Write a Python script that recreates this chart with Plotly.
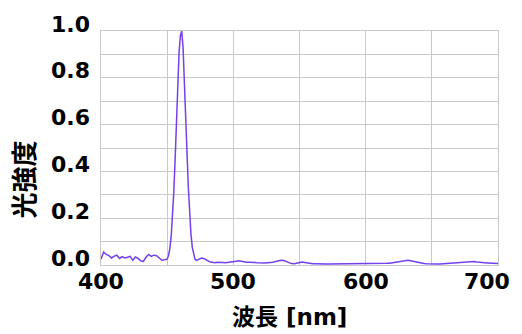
import plotly.graph_objects as go

# Emission spectrum: wavelength [nm] vs. normalized intensity
# Sampled every 2 nm, with 1 nm sampling across the emission peak.
wl_blue_side = list(range(400, 450, 2))
int_blue_side = [
    0.025, 0.055, 0.045, 0.040, 0.030, 0.038, 0.042, 0.028, 0.036, 0.030,
    0.033, 0.037, 0.020, 0.034, 0.028, 0.018, 0.015, 0.033, 0.045, 0.037,
    0.042, 0.040, 0.030, 0.020, 0.022,
]

wl_peak = list(range(450, 472))
int_peak = [
    0.025, 0.040, 0.070, 0.120, 0.200, 0.310, 0.450, 0.610, 0.770, 0.910,
    0.980, 1.000, 0.930, 0.800, 0.640, 0.480, 0.330, 0.210, 0.130, 0.075,
    0.045, 0.025,
]

wl_red_side = list(range(472, 701, 2))
int_red_side = [
    0.020, 0.025, 0.030, 0.027, 0.020, 0.014, 0.012, 0.010, 0.012, 0.013,
    0.011, 0.010, 0.011, 0.012, 0.012, 0.016, 0.018, 0.015, 0.014, 0.012,
    0.012, 0.010, 0.011, 0.010, 0.009, 0.008, 0.009, 0.010, 0.010, 0.012,
    0.015, 0.019, 0.020, 0.019, 0.014, 0.009, 0.006, 0.005, 0.008, 0.010,
    0.013, 0.011, 0.008, 0.006, 0.005, 0.005, 0.004, 0.004, 0.004, 0.004,
    0.004, 0.004, 0.004, 0.004, 0.005, 0.004, 0.004, 0.004, 0.005, 0.005,
    0.005, 0.004, 0.005, 0.005, 0.005, 0.005, 0.005, 0.005, 0.006, 0.006,
    0.006, 0.006, 0.007, 0.008, 0.010, 0.012, 0.014, 0.016, 0.018, 0.020,
    0.020, 0.018, 0.015, 0.013, 0.010, 0.008, 0.006, 0.005, 0.004, 0.004,
    0.004, 0.004, 0.004, 0.005, 0.005, 0.005, 0.006, 0.006, 0.007, 0.008,
    0.009, 0.010, 0.012, 0.014, 0.016, 0.015, 0.013, 0.013, 0.012, 0.010,
    0.009, 0.008, 0.007, 0.007, 0.006,
]

wavelength = wl_blue_side + wl_peak + wl_red_side
intensity = int_blue_side + int_peak + int_red_side
assert len(wavelength) == len(intensity)

x_ticks = [400, 500, 600, 700]
x_tick_labels = ["400", "500", "600", "700"]
y_ticks = [0.0, 0.2, 0.4, 0.6, 0.8, 1.0]
y_tick_labels = ["0.0", "0.2", "0.4", "0.6", "0.8", "1.0"]
x_title = "波長 [nm]"
y_title = "光強度"

FONT = "DejaVu Sans, Noto Sans CJK JP, sans-serif"
GRID = "#c9c9c9"
TICK_FONT = dict(family=FONT, size=22, color="black", weight="bold")

fig = go.Figure()
fig.add_trace(go.Scatter(
    x=wavelength, y=intensity, mode="lines",
    line=dict(color="#7440ee", width=1.5),
    hoverinfo="skip", showlegend=False,
))

fig.update_layout(
    width=522, height=334,
    margin=dict(l=101, r=24, t=31, b=69, autoexpand=False),
    paper_bgcolor="white", plot_bgcolor="white",
    font=dict(family=FONT, color="black"),
    xaxis=dict(
        range=[400, 700], tickvals=x_ticks, showticklabels=False,
        showgrid=True, gridcolor=GRID, gridwidth=1,
        minor=dict(dtick=50, tick0=400, showgrid=True, gridcolor=GRID, gridwidth=1),
        showline=True, linecolor=GRID, linewidth=1, mirror=True,
        zeroline=False, ticks="", fixedrange=True, automargin=False,
    ),
    yaxis=dict(
        range=[0, 1], tickvals=y_ticks, showticklabels=False,
        showgrid=True, gridcolor=GRID, gridwidth=1,
        minor=dict(dtick=0.1, tick0=0, showgrid=True, gridcolor=GRID, gridwidth=1),
        showline=True, linecolor=GRID, linewidth=1, mirror=True,
        zeroline=False, ticks="", fixedrange=True, automargin=False,
    ),
)

# x tick labels; the last one is kept inside the page edge
for v, t in zip(x_ticks, x_tick_labels):
    last = v == x_ticks[-1]
    fig.add_annotation(
        x=v, xref="x", y=0, yref="paper", yanchor="top", yshift=-2,
        xanchor="right" if last else "center", xshift=14 if last else 0,
        text=t, showarrow=False, font=TICK_FONT,
    )

# y tick labels sit slightly above their grid lines
for v, t in zip(y_ticks, y_tick_labels):
    fig.add_annotation(
        x=0, xref="paper", xanchor="right", xshift=-9,
        y=v, yref="y", yanchor="middle", yshift=7,
        text=t, showarrow=False, font=TICK_FONT,
    )

fig.add_annotation(
    x=0.476, xref="paper", y=0, yref="paper", yanchor="middle", yshift=-52,
    text=x_title, showarrow=False,
    font=dict(family=FONT, size=23, color="black", weight="bold"),
)
fig.add_annotation(
    x=0, xref="paper", xanchor="center", xshift=-76,
    y=0.365, yref="paper", yanchor="middle",
    text=y_title, textangle=-90, showarrow=False,
    font=dict(family=FONT, size=26, color="black", weight="bold"),
)

fig.write_html("out.html")
